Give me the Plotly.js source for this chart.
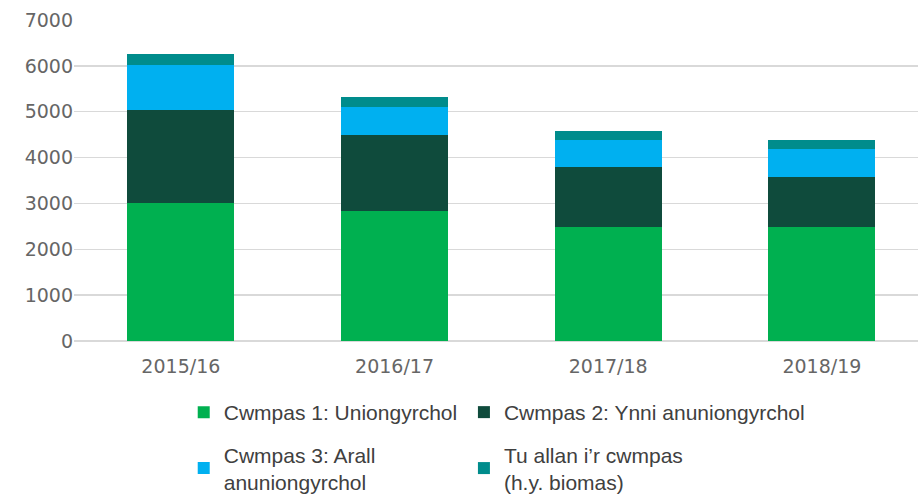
<!DOCTYPE html>
<html>
<head>
<meta charset="utf-8">
<script src="https://cdn.plot.ly/plotly-3.0.1.min.js"></script>
<style>
  html, body { margin: 0; padding: 0; background: #fff; }
  #chart { width: 918px; height: 498px; }
</style>
</head>
<body>
<div id="chart"></div>
<script>
// years on the x axis
var years = ['2015/16', '2016/17', '2017/18', '2018/19'];

// stacked segments
var scope1 = [3000, 2840, 2480, 2490];
var scope2 = [2040, 1645, 1310, 1085];
var scope3 = [980, 625, 595, 615];
var outOfScope = [240, 220, 205, 185];

var names = [
  'Cwmpas 1: Uniongyrchol',
  'Cwmpas 2: Ynni anuniongyrchol',
  'Cwmpas 3: Arall<br>anuniongyrchol',
  'Tu allan i’r cwmpas<br>(h.y. biomas)'
];
var colors = ['#00b050', '#0f4b3c', '#00b0f0', '#008c8c'];
// legend columns: 1 and 3 on the left, 2 and 4 on the right
var legendOf = ['legend', 'legend2', 'legend', 'legend2'];
var series = [scope1, scope2, scope3, outOfScope];

var data = series.map(function (vals, i) {
  return {
    type: 'bar',
    x: years,
    y: vals,
    name: names[i],
    legend: legendOf[i],
    legendgroup: 'g' + i,
    marker: { color: colors[i], line: { width: 0 } },
    hoverinfo: 'x+y+name'
  };
});

var legendFont = { family: 'Liberation Sans, Arial, sans-serif', size: 21, color: '#404040' };
var tickFont = { family: 'DejaVu Sans, sans-serif', size: 19, color: '#666666' };

var layout = {
  width: 918,
  height: 498,
  barmode: 'stack',
  bargap: 0.5,
  margin: { l: 74, r: 0, t: 20, b: 157, autoexpand: false },
  paper_bgcolor: '#ffffff',
  plot_bgcolor: '#ffffff',
  font: { family: 'DejaVu Sans, sans-serif', color: '#666666', size: 19 },
  xaxis: {
    range: [-0.5, 3.45],
    showgrid: false,
    zeroline: false,
    showline: false,
    ticks: '',
    ticklabelstandoff: 12,
    tickfont: tickFont
  },
  yaxis: {
    range: [0, 7000],
    dtick: 1000,
    showgrid: true,
    gridcolor: '#d9d9d9',
    gridwidth: 1.5,
    zeroline: true,
    zerolinecolor: '#d9d9d9',
    zerolinewidth: 1.5,
    showline: false,
    ticks: '',
    tickfont: tickFont
  },
  showlegend: true,
  legend: {
    orientation: 'v',
    x: 0.13,
    xanchor: 'left',
    yref: 'container',
    y: 0.2129,
    yanchor: 'top',
    traceorder: 'grouped',
    tracegroupgap: 12,
    font: legendFont
  },
  legend2: {
    orientation: 'v',
    x: 0.462,
    xanchor: 'left',
    yref: 'container',
    y: 0.2129,
    yanchor: 'top',
    traceorder: 'grouped',
    tracegroupgap: 12,
    font: legendFont
  }
};

Plotly.newPlot('chart', data, layout, { displayModeBar: false, staticPlot: true });
</script>
</body>
</html>
